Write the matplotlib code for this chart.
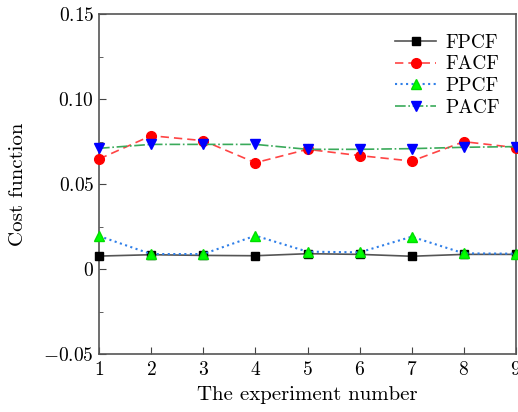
import matplotlib
matplotlib.use("Agg")
import matplotlib.pyplot as plt
from matplotlib.ticker import MultipleLocator, FuncFormatter

plt.rcParams["font.family"] = ["cmr10", "DejaVu Serif"]
plt.rcParams["mathtext.fontset"] = "cm"
plt.rcParams["axes.formatter.use_mathtext"] = True

experiments = [1, 2, 3, 4, 5, 6, 7, 8, 9]
fpcf = [0.0076, 0.0084, 0.0080, 0.0078, 0.0090, 0.0086, 0.0075, 0.0086, 0.0086]
facf = [0.0647, 0.0784, 0.0755, 0.0625, 0.0704, 0.0667, 0.0635, 0.0749, 0.0714]
ppcf = [0.0194, 0.0088, 0.0088, 0.0196, 0.0102, 0.0098, 0.0190, 0.0092, 0.0090]
pacf = [0.0710, 0.0733, 0.0733, 0.0733, 0.0704, 0.0704, 0.0708, 0.0716, 0.0720]

fig = plt.figure(figsize=(5.18, 4.12), dpi=100)
ax = fig.add_axes([99 / 518, 58 / 412, 417 / 518, 340 / 412])

ax.plot(experiments, fpcf, "-", color="#555555", lw=1.2, marker="s", ms=6,
        mfc="black", mec="black", label="FPCF", clip_on=False, zorder=3)
ax.plot(experiments, facf, "--", color="#ff4444", lw=1.2, dashes=(5, 3), marker="o", ms=7,
        mfc="red", mec="red", label="FACF", clip_on=False, zorder=3)
ax.plot(experiments, ppcf, ":", color="#2f7fe8", lw=1.5, marker="^", ms=7,
        mfc="#00ff00", mec="#00dd00", label="PPCF", clip_on=False, zorder=4)
ax.plot(experiments, pacf, "-.", color="#3aaa5a", lw=1.2, marker="v", ms=7,
        mfc="#0000ff", mec="#0000ff", label="PACF", clip_on=False, zorder=4)

ax.set_xlim(1, 9)
ax.set_ylim(-0.05, 0.15)
ax.set_xticks(experiments)
ax.set_yticks([-0.05, 0, 0.05, 0.10, 0.15])
ax.yaxis.set_minor_locator(MultipleLocator(0.025))


def yfmt(v, pos):
    if abs(v) < 1e-9:
        return "$0$"
    return f"${v:.2f}$"


ax.yaxis.set_major_formatter(FuncFormatter(yfmt))
ax.xaxis.set_major_formatter(FuncFormatter(lambda v, pos: f"${int(v)}$"))
ax.tick_params(which="both", direction="in", top=False, right=False, labelsize=14,
               color="#444444")
ax.tick_params(which="major", length=5)
ax.tick_params(axis="x", pad=5)
ax.tick_params(which="minor", length=3)
for sp in ax.spines.values():
    sp.set_color("#555555")
    sp.set_linewidth(1.2)

ax.set_xlabel("The experiment number", fontsize=15, labelpad=5)
ax.set_ylabel("Cost function", fontsize=15, labelpad=12)

ax.legend(loc="upper right", frameon=False, fontsize=14, handlelength=2.1,
          handletextpad=0.5, borderaxespad=0.3, labelspacing=0.2,
          bbox_to_anchor=(0.995, 0.982))

fig.savefig("out.png", dpi=100)
